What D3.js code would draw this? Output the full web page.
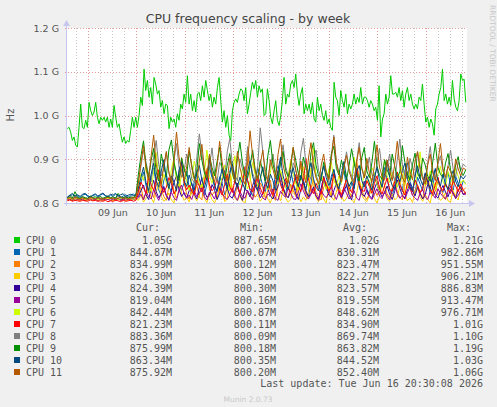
<!DOCTYPE html>
<html>
<head>
<meta charset="utf-8">
<script src="https://cdn.jsdelivr.net/npm/d3@7"></script>
<style>
  body { margin: 0; background: #f0f0f0; }
  svg { display: block; }
  text { font-family: "DejaVu Sans", sans-serif; fill: #555; }
  .mono { font-family: "DejaVu Sans Mono", monospace; font-size: 10px; }
</style>
</head>
<body>
<div id="chart"></div>
<script>
// ---- data (MHz) ----
const cpuNames = ["CPU 0","CPU 1","CPU 2","CPU 3","CPU 4","CPU 5","CPU 6","CPU 7","CPU 8","CPU 9","CPU 10","CPU 11"];
const cpuColors = ["#00CC00","#0066B3","#FF8000","#FFCC00","#330099","#990099","#CCFF00","#FF0000","#808080","#008F00","#00487D","#B35A00"];

const curVals = ["1.05G","844.87M","834.99M","826.30M","824.39M","819.04M","842.44M","821.23M","883.36M","875.99M","863.34M","875.92M"];
const minVals = ["887.65M","800.07M","800.12M","800.50M","800.30M","800.16M","800.87M","800.11M","800.09M","800.18M","800.35M","800.20M"];
const avgVals = ["1.02G","830.31M","823.47M","822.27M","823.57M","819.55M","848.62M","834.90M","869.74M","863.82M","844.52M","852.40M"];
const maxVals = ["1.21G","982.86M","951.55M","906.21M","886.83M","913.47M","976.71M","1.01G","1.10G","1.19G","1.03G","1.06G"];

const dayTicks = ["2026-06-09","2026-06-10","2026-06-11","2026-06-12","2026-06-13","2026-06-14","2026-06-15","2026-06-16"];
const yTicks = [800e6, 900e6, 1000e6, 1100e6, 1200e6];

const cpu0 = [
970,973,962,943,951,932,928,973,1026,973,
970,989,973,1030,1011,1000,1008,1030,996,981,
996,989,996,985,996,973,992,973,1023,996,
973,981,958,939,951,936,943,939,966,996,
973,996,973,1000,1042,1023,1106,1057,1080,1042,
1064,1026,1087,1072,1049,1057,1019,1034,1004,1026,
1023,970,996,985,992,973,1004,989,1026,1015,
1049,1030,1091,1026,1049,1011,1034,1008,1049,1053,
1034,1068,1042,1080,1057,1034,1049,1019,1042,1026,
1064,1087,1034,985,1011,973,1000,955,943,1011,
1030,1038,1030,1049,1061,1057,1034,1064,1004,1026,
1053,1076,1061,1080,1042,1068,1053,1061,1000,
1004,1061,1034,996,981,1011,1034,989,977,1000,
1034,1087,1026,1049,1042,1072,1080,1064,1095,1049,
1023,1049,1064,1004,1026,1011,1026,1004,1030,992,
985,1042,1011,1026,1000,989,1011,981,992,973,
966,1076,1042,1034,1000,1057,1034,1019,1049,1004,
1026,1015,1026,1049,1026,1042,1030,1064,1026,1042,
1042,1034,1019,1034,1026,1011,1019,989,1068,951,
992,1004,1049,1026,1042,1091,1049,1049,1053,1042,
1064,1034,1057,1019,1049,1064,1034,1049,1026,1015,
1026,1015,1042,1034,1072,1026,985,996,973,992,
981,955,1015,1026,1049,1064,1106,1034,1049,1026,
1042,1023,1080,1038,1019,1011,1034,1095,1080,1083,
1030];

const cpu1 = [
812,816,819,814,817,813,818,820,815,812,817,819,814,818,821,816,813,818,815,820,817,813,816,819,814,817,821,815,
828,846,871,839,824,858,880,843,830,817,
852,866,838,825,890,861,842,829,846,873,
835,821,849,868,856,831,818,844,882,858,
837,826,860,845,819,833,871,896,850,834,
822,841,865,852,828,816,847,879,862,839,
825,856,842,820,868,885,847,832,819,854,
876,844,829,838,863,851,823,815,845,889,
866,840,826,852,834,818,861,877,846,831,
857,872,838,824,843,898,864,836,821,850,
833,819,855,869,842,827,846,881,853,830,
817,838,862,848,826,874,892,849,834,822,
859,843,828,866,851,820,836,879,857,835,
824,852,870,841,829,861,845,832,850,845];

const cpu2 = [
808,810,806,812,809,807,811,808,806,810,812,807,809,811,806,808,810,812,807,809,811,806,808,810,807,809,811,813,
818,836,809,824,851,828,812,845,873,831,
815,806,838,862,826,811,829,904,847,820,
809,833,821,842,814,807,856,879,832,818,
826,812,838,823,808,847,866,829,815,841,
819,806,832,921,858,827,813,822,846,834,
811,828,852,817,806,839,870,836,820,812,
843,829,815,861,889,838,821,809,834,852,
824,813,807,836,848,828,815,867,840,822,
810,833,856,826,814,841,898,852,829,816,
808,822,845,832,817,828,864,839,821,811,
835,853,826,813,807,846,872,834,818,826,
841,823,810,838,859,830,816,827,850,836,
819,808,831,847,825,814,842,836,829,835];

const cpu3 = [
806,808,805,809,807,806,808,805,807,809,806,808,805,807,806,808,809,806,805,807,809,806,808,805,807,806,808,810,
806,819,802,811,834,812,801,826,848,815,
804,809,823,807,800,836,862,821,806,813,
802,827,815,805,818,844,810,801,823,808,
800,814,839,826,803,809,871,832,811,805,
817,804,801,828,815,807,851,823,804,812,
826,809,800,819,843,816,805,830,811,802,
808,835,857,818,803,814,806,827,880,834,
812,803,821,809,800,838,815,806,825,845,
816,804,811,829,807,801,822,856,819,808,
803,818,834,811,800,815,842,826,809,804,
821,807,813,838,866,822,805,812,801,827,
836,813,804,819,808,800,831,848,817,806,
811,824,805,802,829,815,807,833,820,826];

const cpu4 = [
810,812,809,813,811,808,812,810,809,813,811,809,812,810,808,811,813,810,809,812,810,808,811,813,810,812,809,814,
815,828,841,819,808,833,852,826,812,822,
838,817,806,829,847,862,831,815,824,811,
828,846,820,809,836,858,827,813,818,842,
831,808,822,851,874,834,816,811,827,845,
819,806,833,826,814,840,856,829,812,821,
848,832,817,809,825,839,868,835,818,812,
826,843,821,808,830,852,828,814,822,837,
816,810,834,861,838,820,813,828,845,829,
812,826,842,818,807,835,879,840,821,815,
829,817,810,832,848,826,814,823,839,820,
808,827,853,834,817,812,830,845,828,816,
836,822,809,819,842,866,833,818,811,827,
840,825,814,831,823,810,829,836,819,824];

const cpu5 = [
807,809,806,810,808,807,809,806,808,810,807,809,806,808,807,809,808,806,809,807,810,806,808,807,809,806,808,810,
812,820,807,826,815,809,831,818,806,823,
834,817,810,824,812,806,829,841,821,811,
818,808,827,815,822,836,814,807,825,819,
809,830,847,822,813,808,819,834,816,806,
826,815,811,829,818,807,838,852,824,812,
807,821,816,832,811,806,827,819,813,835,
822,810,808,825,844,828,815,809,820,831,
816,806,829,818,812,823,837,819,808,826,
813,835,822,809,817,828,811,806,831,849,
824,814,808,820,833,816,810,827,815,807,
829,842,821,811,818,809,824,836,817,812,
806,823,831,814,808,826,819,811,833,822,
815,809,826,838,820,812,817,829,821,819];

const cpu6 = [
809,811,808,812,810,809,811,808,810,812,809,811,808,810,809,811,810,812,809,811,808,810,812,809,811,810,808,813,
836,868,851,889,842,826,872,915,858,840,
866,847,831,878,902,853,838,861,884,849,
829,857,896,871,843,835,868,921,862,845,
874,852,833,859,887,848,827,866,908,855,
841,878,857,832,849,893,864,838,852,881,
846,830,869,912,857,843,875,851,834,862,
898,867,845,829,856,883,852,837,871,926,
859,841,866,848,831,877,894,853,838,862,
845,886,861,835,852,905,869,846,832,874,
857,839,881,866,843,828,859,899,862,847,
871,853,836,864,888,849,833,877,855,842,
868,917,859,840,851,873,846,831,866,884,
850,837,872,856,842,879,861,845,853,842];

const cpu7 = [
805,807,804,806,805,804,806,805,804,807,805,806,804,805,804,806,803,805,804,806,805,803,806,804,805,807,804,806,
826,848,835,822,861,842,829,853,876,839,
824,836,858,845,821,832,869,893,847,830,
841,827,819,852,838,825,847,872,841,828,
835,856,829,818,843,866,837,824,851,839,
822,846,883,852,831,826,844,861,835,820,
838,852,829,817,846,874,842,827,856,834,
823,841,865,839,826,849,902,855,832,821,
845,831,820,858,842,828,836,867,846,829,
819,837,854,835,824,848,879,844,830,826,
851,838,822,845,862,834,820,839,857,831,
827,849,871,842,829,818,846,836,825,853,
840,824,834,866,847,830,821,843,859,836,
828,845,833,822,851,839,826,844,830,821];

const cpu8 = [
811,814,810,815,812,810,813,811,810,814,812,810,813,811,810,812,814,811,810,813,815,811,812,810,814,812,811,816,
852,884,921,892,866,848,905,943,887,862,
878,915,868,851,897,936,882,859,872,912,
889,856,847,903,958,912,875,853,884,926,
870,849,893,881,857,917,947,889,864,851,
901,878,861,929,895,868,852,885,972,918,
876,855,887,912,869,848,898,933,884,863,
857,892,876,851,915,948,889,866,854,903,
921,874,858,886,869,847,908,955,893,871,
852,884,917,879,862,850,897,938,882,859,
876,905,866,849,891,925,878,856,883,912,
868,851,899,946,887,863,855,902,881,858,
916,884,861,849,893,929,876,854,889,908,
872,856,884,921,878,860,895,874,889,883];

const cpu9 = [
812,818,811,826,813,811,815,812,811,816,813,814,812,815,811,813,816,812,814,811,822,813,812,815,811,814,813,818,
866,908,942,886,858,897,925,871,850,912,
884,859,921,944,893,866,851,903,877,861,
918,887,855,873,936,898,869,852,909,881,
862,895,928,875,853,886,913,868,849,902,
939,891,864,857,884,921,877,855,897,872,
851,908,943,889,866,853,892,918,874,860,
883,926,897,868,852,905,881,859,915,938,
886,862,851,894,872,857,911,930,879,864,
898,875,853,886,924,891,867,850,903,927,
873,858,892,941,885,863,854,899,876,861,
912,884,859,871,931,893,866,852,888,914,
869,855,903,887,861,849,895,937,882,866,
858,891,913,876,854,887,906,872,863,876];

const cpu10 = [
814,818,822,816,819,815,820,822,817,814,818,821,816,819,823,817,815,820,818,822,816,819,821,815,818,820,817,819,
834,859,882,847,828,866,891,852,836,873,
899,855,833,862,848,827,876,894,851,838,
864,843,829,869,886,852,835,858,902,866,
841,827,853,878,849,832,867,889,854,836,
859,845,831,871,897,861,839,828,856,883,
848,834,866,851,829,874,905,862,843,831,
857,881,852,837,863,846,830,869,892,855,
836,828,861,884,858,840,853,876,845,832,
868,895,857,838,849,833,872,886,851,837,
862,846,829,858,881,853,836,867,898,859,
840,831,863,848,874,891,854,838,827,861,
885,856,841,869,847,832,859,878,852,839,
866,843,830,858,874,850,837,862,855,863];

const cpu11 = [
810,813,809,814,811,809,812,810,809,813,811,809,812,810,809,811,813,810,812,809,811,814,810,812,809,811,813,812,
848,892,931,878,852,907,955,889,861,843,
886,918,871,846,899,962,905,872,851,883,
927,881,855,842,896,934,878,858,912,869,
847,884,941,893,864,851,902,876,849,918,
881,857,843,892,965,908,873,852,887,921,
866,848,899,877,855,911,946,887,862,845,
889,928,874,851,896,867,846,903,938,882,
858,844,885,912,871,853,899,951,893,866,
848,881,909,873,855,846,894,927,879,857,
902,869,847,886,933,882,861,852,898,875,
851,889,941,884,859,847,905,872,853,896,
918,876,855,843,887,912,868,851,893,936,
879,859,884,872,848,901,878,862,880,876];

const allSeries = [cpu0,cpu1,cpu2,cpu3,cpu4,cpu5,cpu6,cpu7,cpu8,cpu9,cpu10,cpu11];

// ---- layout ----
const width = 497, height = 407;
const plotL = 67, plotR = 467, plotT = 28, plotB = 203;

const parseT = d3.utcParse("%Y-%m-%d %H:%M");
const parseD = d3.utcParse("%Y-%m-%d");
const tStart = parseT("2026-06-08 13:24"), tEnd = parseT("2026-06-16 20:36");
const dataStart = parseT("2026-06-08 13:35"), dataEnd = parseT("2026-06-16 20:00");

let x = d3.scaleUtc().domain([tStart, tEnd]).range([plotL, plotR]);
let y = d3.scaleLinear().domain([800e6, 1200e6]).range([plotB, plotT]);

let svg = d3.select("#chart").append("svg")
  .attr("width", width)
  .attr("height", height);

svg.append("rect").attr("width", width).attr("height", height).attr("fill", "#f0f0f0");
svg.append("rect")
  .attr("x", plotL).attr("y", plotT)
  .attr("width", plotR - plotL).attr("height", plotB - plotT)
  .attr("fill", "#ffffff");

// title
svg.append("text")
  .attr("x", 248).attr("y", 23)
  .attr("text-anchor", "middle")
  .style("font-size", "12.5px")
  .style("fill", "#444")
  .text("CPU frequency scaling - by week");

svg.append("text")
  .attr("transform", "translate(490,5) rotate(90)")
  .style("font-size", "7.5px")
  .style("fill", "#c8c8c8")
  .text("RRDTOOL / TOBI OETIKER");

// minor grid every 6h
let minor = d3.utcHour.every(6).range(tStart, tEnd)
  .filter(d => d.getUTCHours() !== 0);
svg.append("g").selectAll("line")
  .data(minor).enter().append("line")
  .attr("x1", d => Math.round(x(d)) + 0.5).attr("x2", d => Math.round(x(d)) + 0.5)
  .attr("y1", plotT).attr("y2", plotB)
  .attr("stroke", "#c8c8c8")
  .attr("stroke-dasharray", "1,2");

// major grid each day
let major = d3.utcDay.range(tStart, tEnd);
svg.append("g").selectAll("line")
  .data(major).enter().append("line")
  .attr("x1", d => Math.round(x(d)) + 0.5).attr("x2", d => Math.round(x(d)) + 0.5)
  .attr("y1", plotT).attr("y2", plotB + 2)
  .attr("stroke", "#e39a9a")
  .attr("stroke-dasharray", "1,2");

svg.append("g").selectAll("line")
  .data(yTicks.slice(1)).enter().append("line")
  .attr("x1", plotL - 2).attr("x2", plotR)
  .attr("y1", d => Math.round(y(d)) + 0.5).attr("y2", d => Math.round(y(d)) + 0.5)
  .attr("stroke", "#e39a9a")
  .attr("stroke-dasharray", "1,2");

// y axis labels
let yAxis = d3.axisLeft(y).tickValues(yTicks)
  .tickFormat(d => (d / 1e9).toFixed(1) + " G")
  .tickSize(0).tickPadding(8);
let ya = svg.append("g").attr("transform", `translate(${plotL},0)`).call(yAxis);
ya.select(".domain").remove();
ya.selectAll("text").style("font-size", "9.5px").style("fill", "#555")
  .style("font-family", "DejaVu Sans, sans-serif");

svg.append("text")
  .attr("transform", "translate(14,115) rotate(-90)")
  .attr("text-anchor", "middle")
  .style("font-size", "10px")
  .text("Hz");

// x axis labels at noon
let xAxis = d3.axisBottom(x)
  .tickValues(dayTicks.map(d => d3.utcHour.offset(parseD(d), 12)))
  .tickFormat(d3.utcFormat("%d %b"))
  .tickSize(0).tickPadding(6);
let xa = svg.append("g").attr("transform", `translate(0,${plotB})`).call(xAxis);
xa.select(".domain").remove();
xa.selectAll("text").style("font-size", "9.5px").style("fill", "#555")
  .style("font-family", "DejaVu Sans, sans-serif");

// lines
svg.append("clipPath").attr("id", "clip").append("rect")
  .attr("x", plotL).attr("y", plotT - 1)
  .attr("width", plotR - plotL).attr("height", plotB - plotT + 1);

let line = d3.line()
  .x(d => x(d.t))
  .y(d => y(d.v * 1e6));

allSeries.forEach((vals, k) => {
  let step = (dataEnd - dataStart) / (vals.length - 1);
  let pts = vals.map((v, i) => ({ t: new Date(+dataStart + i * step), v: v }));
  svg.append("path")
    .datum(pts)
    .attr("clip-path", "url(#clip)")
    .attr("fill", "none")
    .attr("stroke", cpuColors[k])
    .attr("stroke-width", 1)
    .attr("stroke-linejoin", "round")
    .attr("d", line);
});

// axes lines with arrows
const axisCol = "#c6c6ee";
svg.append("line")
  .attr("x1", plotL - 0.5).attr("x2", plotL - 0.5)
  .attr("y1", plotB + 3).attr("y2", plotT - 4)
  .attr("stroke", axisCol);
svg.append("path")
  .attr("d", `M${plotL - 4},${plotT - 2} L${plotL - 0.5},${plotT - 8} L${plotL + 3},${plotT - 2} Z`)
  .attr("fill", axisCol);
svg.append("line")
  .attr("x1", plotL - 3).attr("x2", plotR + 4)
  .attr("y1", plotB + 0.5).attr("y2", plotB + 0.5)
  .attr("stroke", axisCol);
svg.append("path")
  .attr("d", `M${plotR + 2},${plotB - 3} L${plotR + 8},${plotB + 0.5} L${plotR + 2},${plotB + 4} Z`)
  .attr("fill", axisCol);

// legend
let legend = svg.append("g").attr("class", "mono");
const colRight = [172, 276, 379, 483];
["Cur:", "Min:", "Avg:", "Max:"].forEach((h, i) => {
  legend.append("text")
    .attr("class", "mono")
    .attr("x", colRight[i] - 12).attr("y", 231)
    .attr("text-anchor", "end")
    .text(h);
});

let rows = legend.selectAll("g.row")
  .data(cpuNames).enter().append("g")
  .attr("transform", (d, i) => `translate(0,${240 + i * 12})`);

rows.append("rect")
  .attr("x", 14).attr("y", -3).attr("width", 6).attr("height", 6)
  .attr("fill", (d, i) => cpuColors[i]);
rows.append("text").attr("class", "mono").attr("x", 26).attr("y", 3.5).text(d => d);
[curVals, minVals, avgVals, maxVals].forEach((col, c) => {
  rows.append("text").attr("class", "mono")
    .attr("x", colRight[c]).attr("y", 3.5)
    .attr("text-anchor", "end")
    .text((d, i) => col[i]);
});

legend.append("text").attr("class", "mono")
  .attr("x", 483).attr("y", 387)
  .attr("text-anchor", "end")
  .text("Last update: Tue Jun 16 20:30:08 2026");

svg.append("text")
  .attr("x", 248).attr("y", 402)
  .attr("text-anchor", "middle")
  .style("font-size", "7.5px")
  .style("fill", "#c8c8c8")
  .text("Munin 2.0.73");
</script>
</body>
</html>
